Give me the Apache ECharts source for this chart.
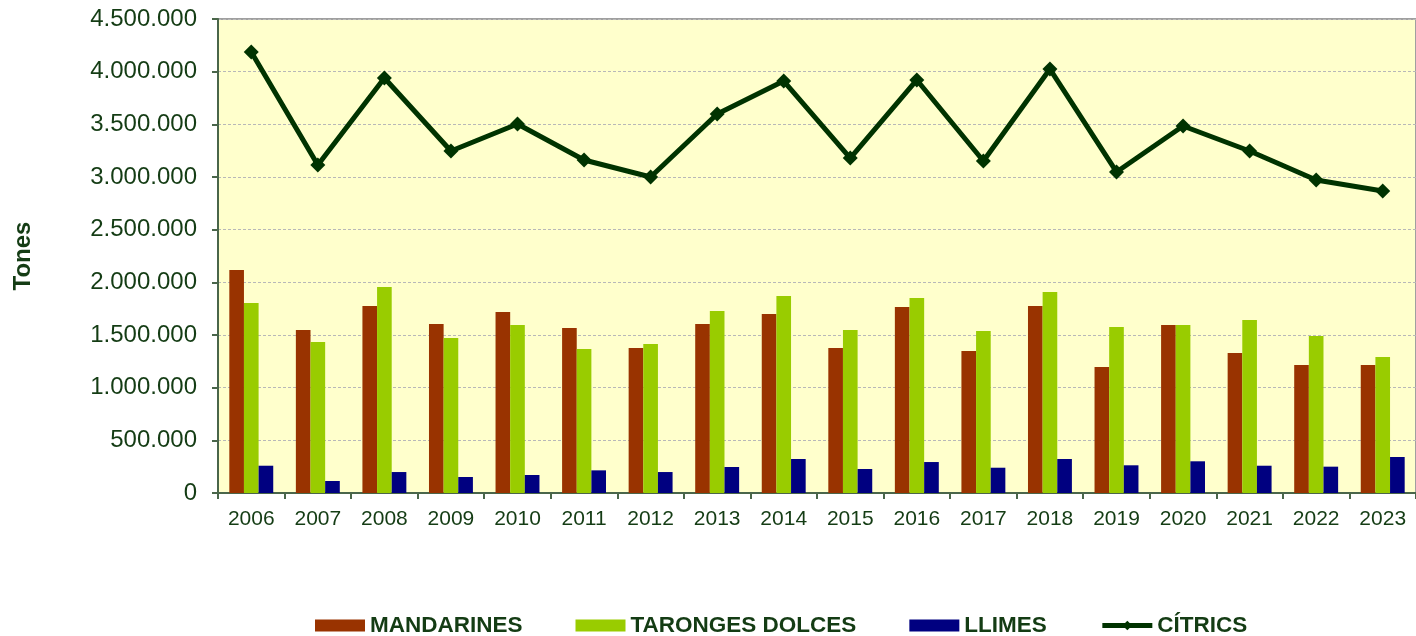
<!DOCTYPE html>
<html>
<head>
<meta charset="utf-8">
<script src="https://cdn.jsdelivr.net/npm/echarts@6/dist/echarts.min.js"></script>
<style>
  html, body { margin: 0; padding: 0; background: #fff; }
  #chart { width: 1416px; height: 636px; }
</style>
</head>
<body>
<div id="chart"></div>
<script>
// anys
var years = ['2006','2007','2008','2009','2010','2011','2012','2013','2014','2015','2016','2017','2018','2019','2020','2021','2022','2023'];
// tones per any
var mandarines = [2117000,1548000,1775000,1604000,1718000,1566000,1377000,1604000,1699000,1377000,1766000,1348000,1775000,1196000,1595000,1329000,1215000,1215000];
var tarongesDolces = [1804000,1434000,1956000,1472000,1595000,1367000,1415000,1728000,1870000,1548000,1851000,1538000,1908000,1576000,1595000,1642000,1491000,1291000];
var llimes = [259000,114000,199000,152000,171000,215000,199000,247000,323000,228000,294000,240000,323000,263000,301000,259000,250000,342000];
var citrics = [4187000,3114000,3940000,3247000,3503000,3161000,3000000,3598000,3911000,3180000,3921000,3152000,4025000,3048000,3484000,3247000,2972000,2867000];

var textColor = '#143c14';
var axisColor = '#4a664a';

function fmtMiles(v) {
  return String(v).replace(/\B(?=(\d{3})+(?!\d))/g, '.');
}

var chart = echarts.init(document.getElementById('chart'));
var options = {
  animation: false,
  grid: {
    show: true,
    left: 218,
    right: -2,
    top: 19,
    bottom: 143,
    backgroundColor: '#ffffcc',
    borderColor: '#a0a0a0',
    borderWidth: 2
  },
  legend: {
    left: 310,
    top: 609,
    itemWidth: 50,
    itemHeight: 12,
    itemGap: 53,
    textStyle: {
      color: textColor,
      fontFamily: 'Liberation Sans, Arial, sans-serif',
      fontWeight: 'bold',
      fontSize: 22.5
    },
    data: [
      { name: 'MANDARINES', icon: 'rect' },
      { name: 'TARONGES DOLCES', icon: 'rect' },
      { name: 'LLIMES', icon: 'rect' },
      { name: 'CÍTRICS', lineStyle: { width: 5, color: '#003300' } }
    ]
  },
  xAxis: {
    type: 'category',
    data: years,
    axisLine: { lineStyle: { color: axisColor, width: 2 } },
    axisTick: { show: true, length: 6, lineStyle: { color: axisColor, width: 2 } },
    axisLabel: {
      color: textColor,
      fontFamily: 'Liberation Sans, Arial, sans-serif',
      fontSize: 21,
      margin: 16
    }
  },
  yAxis: {
    type: 'value',
    min: 0,
    max: 4500000,
    interval: 500000,
    name: 'Tones',
    nameLocation: 'middle',
    nameGap: 183,
    nameTextStyle: {
      color: textColor,
      fontFamily: 'Liberation Sans, Arial, sans-serif',
      fontWeight: 'bold',
      fontSize: 24
    },
    axisLine: { show: true, lineStyle: { color: axisColor, width: 2 } },
    axisTick: { show: true, length: 6, lineStyle: { color: axisColor, width: 2 } },
    axisLabel: {
      color: textColor,
      fontFamily: 'Liberation Sans, Arial, sans-serif',
      fontSize: 24,
      margin: 21,
      formatter: fmtMiles
    },
    splitLine: {
      show: true,
      lineStyle: { color: '#b8b8b8', type: [3, 2], width: 1 }
    }
  },
  series: [
    {
      name: 'MANDARINES',
      type: 'bar',
      data: mandarines,
      barWidth: '22%',
      barGap: '0%',
      itemStyle: { color: '#993300' }
    },
    {
      name: 'TARONGES DOLCES',
      type: 'bar',
      data: tarongesDolces,
      barWidth: '22%',
      barGap: '0%',
      itemStyle: { color: '#99cc00' }
    },
    {
      name: 'LLIMES',
      type: 'bar',
      data: llimes,
      barWidth: '22%',
      barGap: '0%',
      itemStyle: { color: '#000080' }
    },
    {
      name: 'CÍTRICS',
      type: 'line',
      data: citrics,
      symbol: 'diamond',
      symbolSize: 15,
      z: 5,
      lineStyle: { color: '#003300', width: 5 },
      itemStyle: { color: '#003300' }
    }
  ]
};
chart.setOption(options);
</script>
</body>
</html>
